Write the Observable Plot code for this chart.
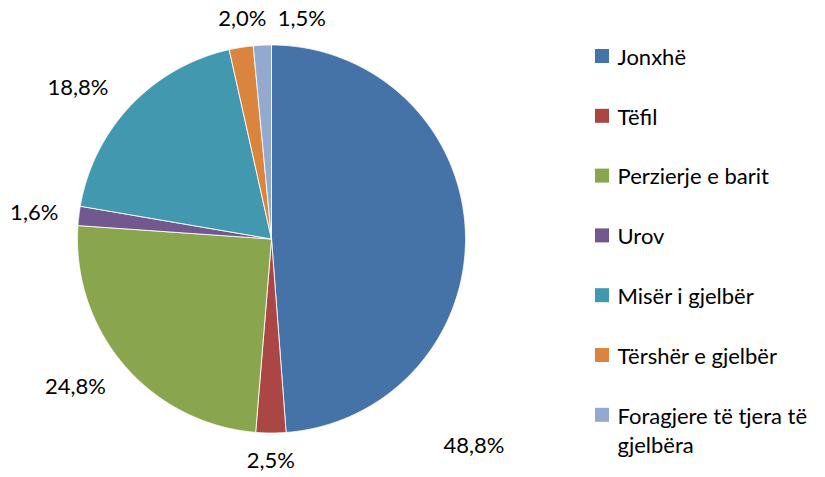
<!DOCTYPE html>
<html>
<head>
<meta charset="utf-8">
<script src="https://cdn.jsdelivr.net/npm/d3@7"></script>
<script src="https://cdn.jsdelivr.net/npm/@observablehq/plot@0.6"></script>
<style>
  html, body { margin: 0; padding: 0; background: #fff; }
</style>
</head>
<body>
<div id="chart"></div>
<script>
// ---- data ----
const categories = ["Jonxhë", "Tëfil", "Perzierje e barit", "Urov", "Misër i gjelbër", "Tërshër e gjelbër", "Foragjere të tjera të gjelbëra"];
const shares = [48.8, 2.5, 24.8, 1.6, 18.8, 2.0, 1.5];
const colors = ["#4572A7", "#AA4643", "#89A54E", "#71588F", "#4198AF", "#DB843D", "#93A9CF"];
// label nudges (degrees, extra px) like Excel's best-fit placement
const labelNudge = [[50, 57], [0, 0], [1, 10], [0, 0], [-3, 10], [2, 0], [10, 0]];

// ---- layout ----
const W = 825, H = 477;
const cx = 271, cy = 238.5, R = 194;
const rows = categories.map((name, i) => ({name, share: shares[i], i}));
const arcs = d3.pie().sort(null).value(d => d.share)(rows);

const pts = [];
for (const a of arcs) {
  const name = a.data.name;
  pts.push({name, x: cx, y: cy});
  const n = Math.max(2, Math.ceil((a.endAngle - a.startAngle) / 0.004));
  for (let k = 0; k <= n; k++) {
    const t = a.startAngle + (a.endAngle - a.startAngle) * k / n;
    pts.push({name, x: cx + R * Math.sin(t), y: cy - R * Math.cos(t)});
  }
  pts.push({name, x: cx, y: cy});
}

const fmt = v => d3.format(".1f")(v).replace(".", ",") + "%";
const gap = 22;
const labels = arcs.map(a => {
  const i = a.data.i;
  const [dDeg, extra] = labelNudge[i];
  const t = (a.startAngle + a.endAngle) / 2 + dDeg * Math.PI / 180;
  const dx = Math.sin(t), dy = -Math.cos(t);
  const text = fmt(a.data.share);
  const w = text.length * 11.5, h = 12;
  const r = R + gap + extra;
  return {text, x: cx + dx * r + dx * w / 2, y: cy + dy * r + dy * h / 2};
});

// legend
const legX = 595, legSize = 14, legY0 = 56, legStep = 59.8;
const wrap = s => {
  if (s.length <= 22) return s;
  const idx = s.lastIndexOf(" ", 22);
  return s.slice(0, idx) + "\n" + s.slice(idx + 1);
};
const legend = categories.map((name, i) => ({name, label: wrap(name), y: legY0 + i * legStep}));

const chart = Plot.plot({
  width: W,
  height: H,
  margin: 0,
  x: {domain: [0, W], range: [0, W], axis: null},
  y: {domain: [0, H], range: [0, H], axis: null},
  color: {domain: categories, range: colors},
  style: {fontFamily: "Lato, 'Open Sans', sans-serif", background: "#fff"},
  marks: [
    Plot.line(pts, {x: "x", y: "y", z: "name", fill: "name", stroke: "#fff", strokeWidth: 1, strokeOpacity: 0.85, curve: "linear"}),
    Plot.text(labels, {x: "x", y: "y", text: "text", fontSize: 22, fill: "#000", textAnchor: "middle", lineAnchor: "middle"}),
    Plot.rect(legend, {x1: legX, x2: legX + legSize, y1: d => d.y - legSize / 2, y2: d => d.y + legSize / 2, fill: "name"}),
    Plot.text(legend, {x: legX + 22, y: d => d.y - 13, text: "label", fontSize: 22, fill: "#000", textAnchor: "start", lineAnchor: "top", lineHeight: 1.36})
  ]
});
document.getElementById("chart").appendChild(chart);
</script>
</body>
</html>
